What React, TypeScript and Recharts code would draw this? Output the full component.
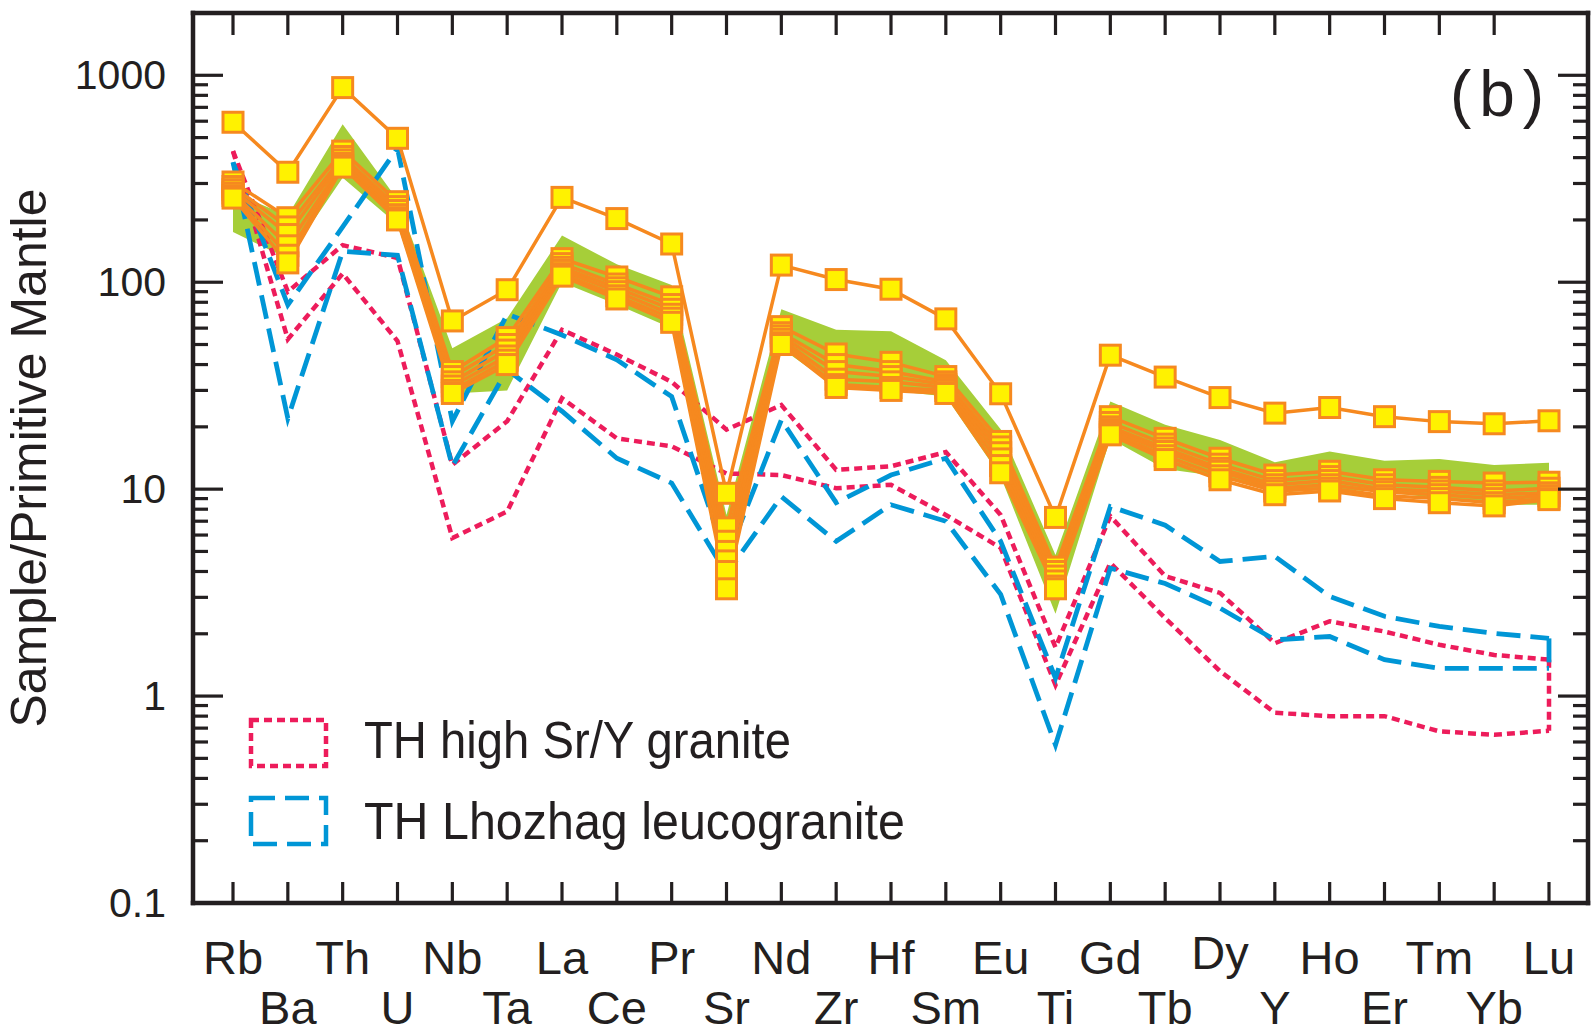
import { Area, ComposedChart, Legend, Line, ReferenceLine, XAxis, YAxis } from 'recharts'

const INK = '#231f20'
const ORANGE = '#f6891f'
const YELLOW = '#fff200'
const GREEN = '#a6ce39'
const RED = '#ed1c5b'
const BLUE = '#0096d6'
const FONT = '"Liberation Sans", Arial, Helvetica, sans-serif'

// primitive-mantle normalised spider diagram, element order as on the plot
const elements = ['Rb', 'Ba', 'Th', 'U', 'Nb', 'Ta', 'La', 'Ce', 'Pr', 'Sr', 'Nd', 'Zr', 'Hf', 'Sm', 'Eu', 'Ti', 'Gd', 'Tb', 'Dy', 'Y', 'Ho', 'Er', 'Tm', 'Yb', 'Lu']

// samples (orange lines, yellow squares)
const sampleHigh = [593, 340, 872, 496, 65, 92, 257, 203, 153, 9.55, 121, 103, 92.5, 66.5, 28.9, 7.3, 44.4, 34.8, 27.7, 23.3, 24.8, 22.4, 21.2, 20.7, 21.4]
const sampleA = [305, 205, 430, 245, 37, 54, 130, 106, 85, 6.5, 61, 45, 41, 35, 17, 4.2, 22.4, 17.6, 14.1, 11.7, 12.2, 11.1, 10.9, 10.7, 10.8]
const sampleB = [290, 185, 405, 232, 35, 50, 123, 98, 78, 5.6, 57, 40, 37, 33, 16, 4.0, 21, 16.5, 13.2, 11, 11.5, 10.5, 10.2, 9.8, 10.1]
const sampleC = [280, 170, 390, 222, 33, 47, 118, 94, 74, 5.0, 55, 37, 35, 32, 15, 3.8, 20, 15.8, 12.6, 10.5, 11, 10, 9.8, 9.4, 9.6]
const sampleD = [270, 150, 375, 212, 31.5, 44, 114, 90, 70, 4.5, 53, 34, 33, 31, 14, 3.6, 19.4, 15.2, 12.2, 10.1, 10.5, 9.7, 9.4, 9.0, 9.3]
const sampleE = [262, 135, 365, 205, 30, 42, 110, 86, 67, 4.0, 51, 32, 31, 30, 13, 3.4, 18.8, 14.5, 11.6, 9.8, 10.1, 9.3, 9.0, 8.6, 9.0]
const sampleF = [255, 124, 360, 200, 29, 40, 107, 83, 64, 3.3, 50, 31, 30, 29, 12, 3.3, 18.3, 13.9, 11.1, 9.4, 9.8, 9.0, 8.6, 8.3, 8.9]

// green field
const fieldLow = [175, 130, 320, 190, 29, 30, 100, 78, 60, 3.8, 48, 31, 30, 28, 11.5, 2.5, 17.5, 12.5, 11.5, 9.6, 10, 9.7, 9.0, 8.4, 8.4]
const fieldHigh = [270, 210, 580, 250, 48, 67, 168, 122, 97, 7.5, 74, 59, 58, 42, 19.5, 4.8, 26.5, 20.5, 17.3, 13.5, 15.2, 13.7, 14, 13.1, 13.4]

// TH high Sr/Y granite envelope
const srYUpper = [430, 90, 151, 131, 13.1, 21.3, 58.9, 44.7, 33, 19.4, 25.5, 12.4, 12.9, 15.1, 7.5, 1.72, 7.4, 3.8, 3.15, 1.8, 2.3, 2.05, 1.77, 1.58, 1.5]
const srYLower = [430, 53, 110, 52, 5.8, 7.8, 27.5, 17.6, 16.1, 11.9, 11.7, 10.1, 10.5, 7.5, 5.2, 1.13, 4.4, 2.38, 1.32, 0.83, 0.8, 0.8, 0.675, 0.65, 0.68]

// TH Lhozhag leucogranite envelope
const leucoUpper = [380, 77.6, 185, 444, 21.3, 70, 55.6, 42.2, 28, 4.6, 21.6, 8.6, 11.7, 14.1, 5.6, 1.22, 8.24, 6.7, 4.47, 4.73, 3.03, 2.43, 2.17, 2.01, 1.9]
const leucoLower = [380, 22, 141, 135, 12.9, 37.8, 23.8, 14.1, 10.7, 3.9, 9.2, 5.6, 8.4, 7.0, 3.1, 0.58, 4.15, 3.5, 2.66, 1.87, 1.94, 1.5, 1.36, 1.36, 1.36]

const yMajorTicks = [0.1, 1, 10, 100, 1000]
const yMinorTicks = yMajorTicks.slice(0, 4).flatMap(d => [2, 3, 4, 5, 6, 7, 8, 9].map(m => +(d * m).toPrecision(3)))
const yTicks = [...yMajorTicks, ...yMinorTicks]
// the top frame carries 24 evenly spaced ticks between Rb and Lu
const topTicks = Array.from({ length: 24 }, (_, i) => i)

const cluster = [sampleA, sampleB, sampleC, sampleD, sampleE, sampleF]

const rows = elements.map((el, i) => {
  const row: Record<string, any> = {
    el,
    hi: sampleHigh[i],
    field: [fieldLow[i], fieldHigh[i]],
    srU: srYUpper[i],
    srL: srYLower[i],
    leU: leucoUpper[i],
    leL: leucoLower[i],
  }
  cluster.forEach((s, k) => (row[`s${k}`] = s[i]))
  return row
})

const last = elements.length - 1

function LeftTick(props: any) {
  const { x, y, payload } = props
  const major = yMajorTicks.includes(payload.value)
  return (
    <g>
      <line x1={x} x2={x + (major ? 30 : 15)} y1={y} y2={y} stroke={INK} strokeWidth={3.2} />
      {major && (
        <text x={x - 27} y={y + 14} textAnchor="end" fontSize={41} fill={INK} fontFamily={FONT}>
          {String(payload.value)}
        </text>
      )}
    </g>
  )
}

function RightTick(props: any) {
  const { x, y, payload } = props
  const major = yMajorTicks.includes(payload.value)
  return <line x1={x} x2={x - (major ? 30 : 15)} y1={y} y2={y} stroke={INK} strokeWidth={3.2} />
}

function TopTick(props: any) {
  const { x, y } = props
  return <line x1={x} x2={x} y1={y} y2={y + 22} stroke={INK} strokeWidth={3.2} />
}

function ElementTick(props: any) {
  const { x, y, payload } = props
  const i = elements.indexOf(payload.value)
  const lift = payload.value === 'Dy' ? 5 : 0
  return (
    <g>
      <line x1={x} x2={x} y1={y} y2={y - 21} stroke={INK} strokeWidth={3.2} />
      <text x={x} y={y + (i % 2 ? 121 : 71) - lift} textAnchor="middle" fontSize={47} fill={INK} fontFamily={FONT}>
        {payload.value}
      </text>
    </g>
  )
}

function YTitle(props: any) {
  const { viewBox } = props
  const cx = viewBox.x - 146
  const cy = viewBox.y + viewBox.height / 2
  return (
    <text x={cx} y={cy} transform={`rotate(-90 ${cx} ${cy})`} textAnchor="middle" fontSize={50} fill={INK} fontFamily={FONT}>
      Sample/Primitive Mantle
    </text>
  )
}

function PanelTag(props: any) {
  const { viewBox } = props
  return (
    <text x={viewBox.x + viewBox.width - 138} y={viewBox.y + 104} fontSize={64} fill={INK} fontFamily={FONT} textLength={94} lengthAdjust="spacing">
      (b)
    </text>
  )
}

function LegendArt() {
  return (
    <svg width={720} height={175} style={{ display: 'block', overflow: 'visible' }}>
      <rect x={11} y={15} width={75} height={46} fill="none" stroke={RED} strokeWidth={4.5} strokeDasharray="8 5" />
      <text x={124} y={53} fontSize={52} fill={INK} fontFamily={FONT} textLength={427} lengthAdjust="spacingAndGlyphs">
        TH high Sr/Y granite
      </text>
      <rect x={11} y={93} width={75} height={46} fill="none" stroke={BLUE} strokeWidth={4.5} strokeDasharray="24 10" />
      <text x={124} y={134} fontSize={52} fill={INK} fontFamily={FONT} textLength={541} lengthAdjust="spacingAndGlyphs">
        TH Lhozhag leucogranite
      </text>
    </svg>
  )
}

const square = (props: any) => {
  const { cx, cy, index, dataKey } = props
  if (cx == null || cy == null) return <g key={`${dataKey}-${index}`} />
  return <rect key={`${dataKey}-${index}`} x={cx - 10} y={cy - 10} width={20} height={20} fill={YELLOW} stroke={ORANGE} strokeWidth={3} />
}

const frame = { stroke: INK, strokeWidth: 4.5, strokeLinecap: 'square' as const }

export default function App() {
  return (
    <div style={{ position: 'absolute', left: 0, top: 0, width: 1596, height: 1035, background: '#fff' }}>
      <ComposedChart width={1596} height={1035} data={rows} margin={{ top: 12, right: 7, bottom: 131, left: 192 }}>
        <XAxis
          xAxisId="main"
          dataKey="el"
          type="category"
          scale="point"
          padding={{ left: 40, right: 39 }}
          height={1}
          interval={0}
          tickSize={0}
          tickMargin={0}
          tickLine={false}
          axisLine={frame}
          tick={<ElementTick />}
        />
        <XAxis
          xAxisId="top"
          orientation="top"
          type="number"
          domain={[0, 23]}
          allowDataOverflow
          ticks={topTicks}
          padding={{ left: 40, right: 39 }}
          height={1}
          interval={0}
          tickSize={0}
          tickMargin={0}
          tickLine={false}
          axisLine={frame}
          tick={<TopTick />}
          label={<PanelTag />}
        />
        <YAxis
          yAxisId="left"
          type="number"
          scale="log"
          domain={[0.1, 2000]}
          allowDataOverflow
          ticks={yTicks}
          width={1}
          interval={0}
          tickSize={0}
          tickMargin={0}
          tickLine={false}
          axisLine={frame}
          tick={<LeftTick />}
          label={<YTitle />}
        />
        <YAxis
          yAxisId="right"
          orientation="right"
          type="number"
          scale="log"
          domain={[0.1, 2000]}
          allowDataOverflow
          ticks={yTicks}
          width={1}
          interval={0}
          tickSize={0}
          tickMargin={0}
          tickLine={false}
          axisLine={frame}
          tick={<RightTick />}
        />

        <Area xAxisId="main" yAxisId="left" dataKey="field" fill={GREEN} fillOpacity={1} stroke="none" isAnimationActive={false} />

        <Line xAxisId="main" yAxisId="left" dataKey="srU" stroke={RED} strokeWidth={4.5} strokeDasharray="8 5" dot={false} activeDot={false} isAnimationActive={false} />
        <Line xAxisId="main" yAxisId="left" dataKey="srL" stroke={RED} strokeWidth={4.5} strokeDasharray="8 5" dot={false} activeDot={false} isAnimationActive={false} />
        <ReferenceLine
          xAxisId="main"
          yAxisId="left"
          segment={[{ x: elements[last], y: srYUpper[last] }, { x: elements[last], y: srYLower[last] }]}
          stroke={RED}
          strokeWidth={4.5}
          strokeDasharray="8 5"
        />
        <Line xAxisId="main" yAxisId="left" dataKey="leU" stroke={BLUE} strokeWidth={4.8} strokeDasharray="24 10" dot={false} activeDot={false} isAnimationActive={false} />
        <Line xAxisId="main" yAxisId="left" dataKey="leL" stroke={BLUE} strokeWidth={4.8} strokeDasharray="24 10" dot={false} activeDot={false} isAnimationActive={false} />
        <ReferenceLine
          xAxisId="main"
          yAxisId="left"
          segment={[{ x: elements[last], y: leucoUpper[last] }, { x: elements[last], y: leucoLower[last] }]}
          stroke={BLUE}
          strokeWidth={4.8}
          strokeDasharray="24 10"
        />

        {cluster.map((_, k) => (
          <Line
            key={k}
            xAxisId="main"
            yAxisId="left"
            dataKey={`s${k}`}
            stroke={ORANGE}
            strokeWidth={3.5}
            dot={square}
            activeDot={false}
            isAnimationActive={false}
          />
        ))}
        <Line xAxisId="main" yAxisId="left" dataKey="hi" stroke={ORANGE} strokeWidth={3.5} dot={square} activeDot={false} isAnimationActive={false} />

        <Legend layout="horizontal" verticalAlign="middle" align="center" wrapperStyle={{ left: 240, top: 705, width: 720, height: 175 }} content={() => <LegendArt />} />
      </ComposedChart>
    </div>
  )
}
